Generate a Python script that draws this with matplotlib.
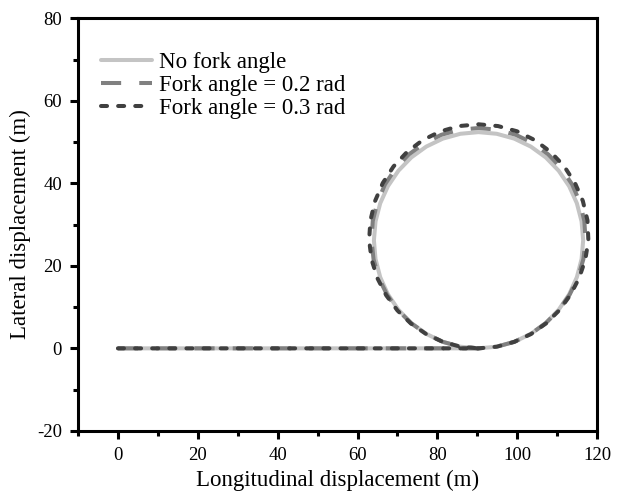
import numpy as np
import matplotlib.pyplot as plt

plt.rcParams['font.family'] = ['Liberation Serif', 'DejaVu Serif']
plt.rcParams['axes.unicode_minus'] = False

# digitised trajectories (m): straight run along y=0, then a left-hand loop
x_none = [0, 90.3, 94.85, 99.26, 103.4, 107.14, 110.37, 112.99, 114.92, 116.1, 116.5,
          116.1, 114.92, 112.99, 110.37, 107.14, 103.4, 99.26, 94.85, 90.3,
          85.75, 81.34, 77.2, 73.46, 70.23, 67.61, 65.68, 64.5, 64.1,
          64.5, 65.68, 67.61, 70.23, 73.46, 77.2, 81.34, 85.75, 90.3]
y_none = [0, 0, 0.4, 1.58, 3.51, 6.13, 9.36, 13.1, 17.24, 21.65, 26.2,
          30.75, 35.16, 39.3, 43.04, 46.27, 48.89, 50.82, 52.0, 52.4,
          52.0, 50.82, 48.89, 46.27, 43.04, 39.3, 35.16, 30.75, 26.2,
          21.65, 17.24, 13.1, 9.36, 6.13, 3.51, 1.58, 0.4, 0]

x_02 = [0, 90.3, 94.85, 99.26, 103.4, 107.14, 110.45, 113.12, 115.2, 116.54, 117.1,
        116.79, 115.67, 113.73, 111.06, 107.75, 103.9, 99.6, 95.02, 90.3,
        85.58, 81.0, 76.73, 72.85, 69.54, 66.87, 64.98, 63.81, 63.5,
        64.01, 65.3, 67.39, 70.12, 73.43, 77.2, 81.34, 85.75, 90.3]
y_02 = [0, 0, 0.4, 1.58, 3.51, 6.13, 9.3, 13.03, 17.14, 21.57, 26.2,
        30.87, 35.43, 39.73, 43.62, 47.0, 49.76, 51.76, 52.98, 53.4,
        52.98, 51.76, 49.71, 47.0, 43.62, 39.73, 35.42, 30.87, 26.2,
        21.56, 17.1, 12.98, 9.26, 6.09, 3.51, 1.58, 0.4, 0]

x_03 = [0, 90.3, 94.85, 99.26, 103.43, 107.2, 110.52, 113.29, 115.48, 117.04, 117.8,
        117.58, 116.42, 114.42, 111.71, 108.3, 104.33, 99.91, 95.18, 90.3,
        85.42, 80.71, 76.3, 72.37, 69.0, 66.31, 64.36, 63.22, 62.9,
        63.52, 64.98, 67.18, 70.0, 73.36, 77.18, 81.34, 85.75, 90.3]
y_03 = [0, 0, 0.4, 1.58, 3.47, 6.05, 9.23, 12.93, 17.03, 21.49, 26.2,
        31.01, 35.71, 40.13, 44.16, 47.65, 50.49, 52.61, 53.87, 54.3,
        53.87, 52.56, 50.45, 47.57, 44.07, 40.05, 35.64, 30.98, 26.2,
        21.48, 16.98, 12.85, 9.17, 6.02, 3.47, 1.58, 0.4, 0]

labels = ['No fork angle', 'Fork angle = 0.2 rad', 'Fork angle = 0.3 rad']

fig = plt.figure(figsize=(6.21, 4.93), dpi=100)
ax = fig.add_axes([0.1256, 0.126, 0.836, 0.837])

ax.plot(x_none, y_none, color='#c4c4c4', lw=2.9, solid_capstyle='round', label=labels[0])
ax.plot(x_02, y_02, color='#808080', lw=2.9, dashes=(5, 4.5), label=labels[1])
ax.plot(x_03, y_03, color='#404040', lw=2.9, dashes=(1.5, 2.75),
        dash_capstyle='round', label=labels[2])

ax.set_xlim(-10, 120)
ax.set_ylim(-20, 80)
ax.set_xticks(np.arange(0, 121, 20))
ax.set_xticks(np.arange(-10, 121, 10), minor=True)
ax.set_yticks(np.arange(-20, 81, 20))
ax.set_yticks(np.arange(-10, 81, 10), minor=True)
ax.tick_params(which='major', direction='out', length=5.5, width=2.2, labelsize=13.5, pad=6)
ax.tick_params(which='minor', direction='out', length=3.5, width=2.2)
for s in ax.spines.values():
    s.set_linewidth(2.2)

ax.set_xlabel('Longitudinal displacement (m)', fontsize=16.5, labelpad=4)
ax.set_ylabel('Lateral displacement (m)', fontsize=16.5, labelpad=4)

ax.legend(loc='upper left', bbox_to_anchor=(0.045, 0.918), frameon=False, fontsize=16.5,
          handlelength=2.2, handletextpad=0.3, labelspacing=0.08, borderpad=0,
          borderaxespad=0)

fig.savefig('out.png', dpi=100)
